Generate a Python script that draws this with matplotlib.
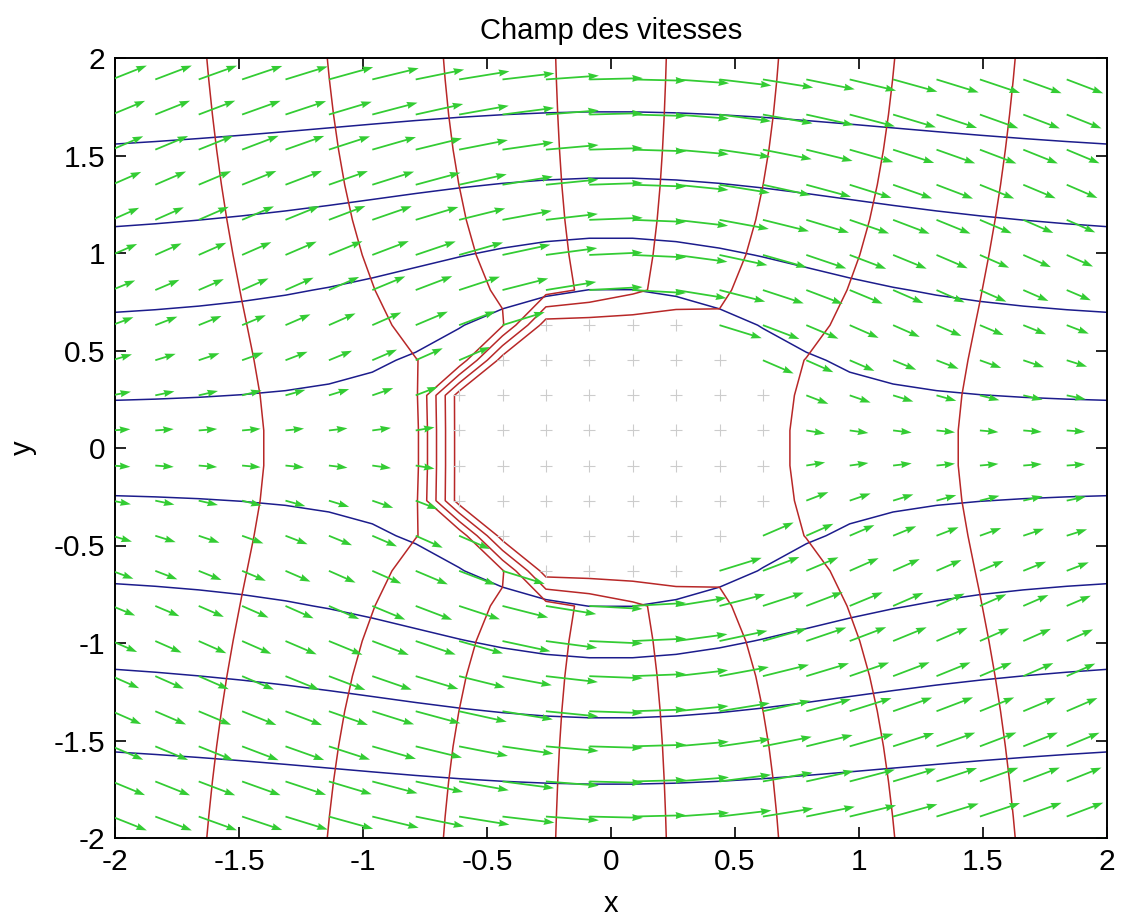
import numpy as np
import matplotlib
matplotlib.use("Agg")
import matplotlib.pyplot as plt

# computation grid (cell centred, outer row/column lies just outside the axes)
x_step = 0.175
y_step = 0.18
n_pts = 24

# obstacle and flow
radius = 0.7
u_inf = 1.0
phi_inside = 1.0   # value kept inside the obstacle for the potential
psi_inside = 0.0   # value kept inside the obstacle for the stream function

# contour levels
phi_levels = [-1.75, -1.25, -0.75, -0.25, 0.25, 0.75, 1.25, 1.75]
psi_levels = [-1.44, -1.03, -0.62, -0.215, 0.215, 0.62, 1.03, 1.44]

ticks = [-2, -1.5, -1, -0.5, 0, 0.5, 1, 1.5, 2]
tick_labels = ["-2", "-1.5", "-1", "-0.5", "0", "0.5", "1", "1.5", "2"]

arrow_scale = 0.1453   # quiver autoscale (data units per unit speed)

plt.rcParams["font.family"] = ["Liberation Sans", "DejaVu Sans"]

k = np.arange(n_pts) - (n_pts - 1) / 2
X, Y = np.meshgrid(k * x_step, k * y_step)
R2 = X**2 + Y**2
TH = np.arctan2(Y, X)
inside = R2 < radius**2

phi = u_inf * X * (1 + radius**2 / R2)
psi = u_inf * Y * (1 - radius**2 / R2)
phi[inside] = phi_inside
psi[inside] = psi_inside

U = u_inf * (1 - radius**2 * np.cos(2 * TH))
V = -u_inf * radius**2 * np.sin(2 * TH)

fig = plt.figure(figsize=(11.22, 9.18), dpi=100)
ax = fig.add_axes([115 / 1122, 80 / 918, 992 / 1122, 780 / 918])

ax.contour(X, Y, psi, levels=psi_levels, colors="#1c1c8c", linewidths=1.1, linestyles="solid")
ax.contour(X, Y, phi, levels=phi_levels, colors="#b82828", linewidths=1.1, linestyles="solid")

ax.plot(X[inside], Y[inside], "+", color="#cccccc", ms=8, mew=0.8, zorder=2)

out = ~inside
ax.quiver(X[out], Y[out], U[out] * arrow_scale, V[out] * arrow_scale,
          angles="xy", scale_units="xy", scale=1, color="#33cc33",
          width=0.0018, headwidth=4, headlength=6, headaxislength=5.5, zorder=3)

ax.set_xlim(-2, 2)
ax.set_ylim(-2, 2)
ax.set_xticks(ticks)
ax.set_xticklabels(tick_labels)
ax.set_yticks(ticks)
ax.set_yticklabels(tick_labels)
ax.tick_params(direction="in", length=8, width=1.2, top=True, right=True,
               labelsize=21.5, pad=7)
for s in ax.spines.values():
    s.set_linewidth(1.4)

ax.set_title("Champ des vitesses", fontsize=21, pad=14)
ax.set_xlabel("x", fontsize=21, labelpad=10)
ax.set_ylabel("y", fontsize=21, labelpad=12)

fig.savefig("out.png", dpi=100)
